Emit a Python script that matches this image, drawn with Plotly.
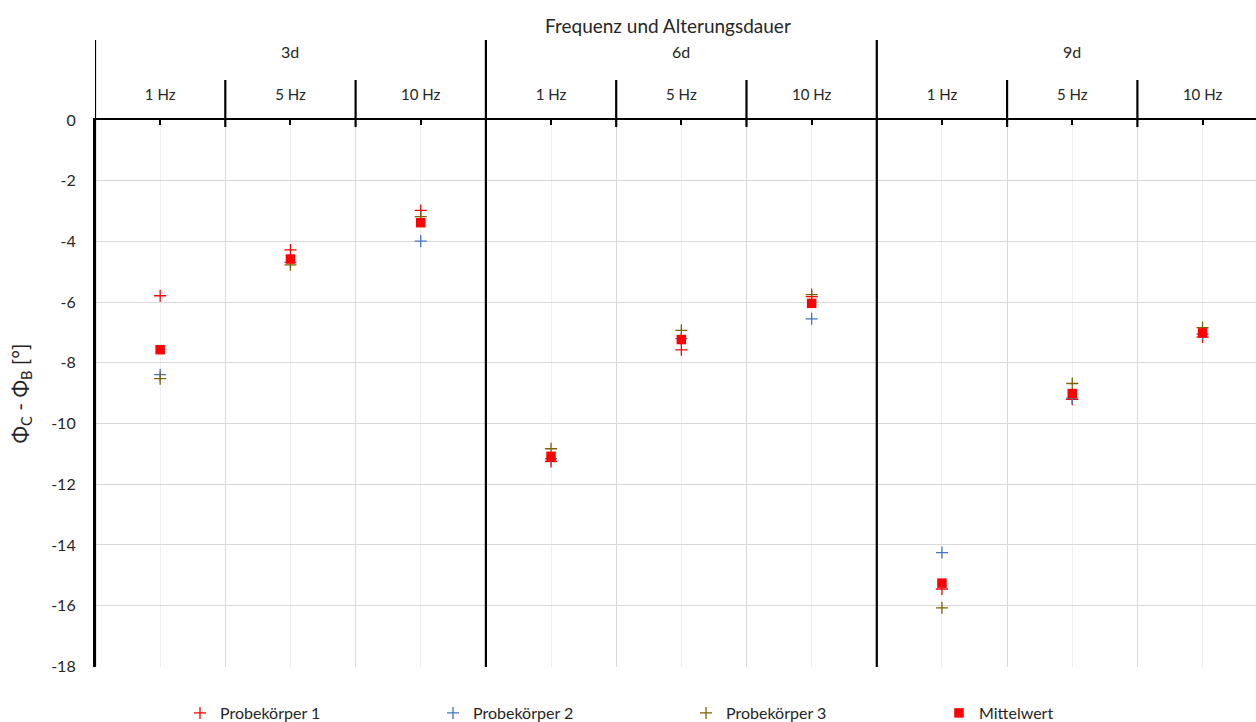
import plotly.graph_objects as go

# ---- data ----
groups = ["3d", "6d", "9d"]
freqs = ["1 Hz", "5 Hz", "10 Hz"]
categories = [f"{g} {f}" for g in groups for f in freqs]
probe1 = [-5.79, -4.28, -2.98, -11.25, -7.57, -5.82, -15.45, -9.20, -7.15]
probe2 = [-8.39, -4.69, -3.99, -11.16, -7.20, -6.55, -14.25, -9.16, -7.05]
probe3 = [-8.52, -4.77, -3.18, -10.83, -6.93, -5.75, -16.07, -8.68, -6.84]
mittel = [round((a + b + c) / 3, 3) for a, b, c in zip(probe1, probe2, probe3)]
y_ticks = [0, -2, -4, -6, -8, -10, -12, -14, -16, -18]

x = list(range(len(categories)))
tick_text = [f for g in groups for f in freqs]

FONT = "Lato, 'Open Sans', sans-serif"
TXT = "#262626"

fig = go.Figure()
cross = dict(symbol="cross-thin", size=8.6)
fig.add_trace(go.Scatter(x=x, y=probe1, mode="markers", name="Probekörper 1",
                         marker=dict(**cross, line=dict(color="#FF0000", width=1.3))))
fig.add_trace(go.Scatter(x=x, y=probe2, mode="markers", name="Probekörper 2",
                         marker=dict(**cross, line=dict(color="#4472C4", width=1.3))))
fig.add_trace(go.Scatter(x=x, y=probe3, mode="markers", name="Probekörper 3",
                         marker=dict(**cross, line=dict(color="#7F6000", width=1.3))))
fig.add_trace(go.Scatter(x=x, y=mittel, mode="markers", name="Mittelwert",
                         marker=dict(symbol="square", size=9.5, color="#FF0000")))

n = len(categories)
PH = 547  # plot height in px
x_lo = -0.5
x_hi = -0.5 + 1161 / 130.3

shapes = []
top_paper = 1 + 80 / PH
sep_paper = 1 + 40 / PH
# group boundaries (black, tall)
for gi in range(len(groups)):
    xb = gi * len(freqs) - 0.5
    shapes.append(dict(type="line", xref="x", yref="paper", x0=xb, x1=xb,
                       y0=0, y1=top_paper, line=dict(color="black", width=2.2)))
# frequency separators (black, above axis)
for i in range(n - 1):
    xb = i + 0.5
    if (i + 1) % len(freqs) == 0:
        continue
    shapes.append(dict(type="line", xref="x", yref="paper", x0=xb, x1=xb,
                       y0=1 - 7 / PH, y1=sep_paper, line=dict(color="black", width=2.2)))

annotations = [dict(text="Frequenz und Alterungsdauer", xref="paper", yref="paper",
                    x=(668 - 95) / 1161, y=1 + 95 / PH, xanchor="center", yanchor="middle",
                    showarrow=False, font=dict(size=19, color=TXT, family=FONT))]
for gi, g in enumerate(groups):
    annotations.append(dict(text=g, xref="x", yref="paper",
                            x=gi * len(freqs) + (len(freqs) - 1) / 2,
                            y=1 + 68 / PH, xanchor="center", yanchor="middle",
                            showarrow=False,
                            font=dict(size=16, color=TXT, family=FONT)))

fig.update_layout(
    width=1256, height=722,
    margin=dict(l=95, r=0, t=120, b=55),
    paper_bgcolor="white", plot_bgcolor="white",
    font=dict(family=FONT, color=TXT),
    showlegend=True,
    legend=dict(orientation="h", x=(180 - 95) / 1161, xanchor="left",
                yref="container", y=(722 - 713) / 722, yanchor="middle",
                entrywidth=208, entrywidthmode="pixels", tracegroupgap=0,
                font=dict(size=16, color=TXT, family=FONT)),
    xaxis=dict(range=[x_lo, x_hi], side="top", tickvals=x, ticktext=tick_text,
               showline=True, linecolor="black", linewidth=2.2,
               ticks="inside", ticklen=5, tickwidth=2, tickcolor="black",
               ticklabelstandoff=12,
               tickfont=dict(size=15, color=TXT, family=FONT),
               showgrid=True, gridcolor="#EFEFEF", gridwidth=1,
               minor=dict(tickvals=[i + 0.5 for i in range(n - 1)], showgrid=True,
                          gridcolor="#D9D9D9", gridwidth=1.3, ticks=""),
               zeroline=False, fixedrange=True),
    yaxis=dict(range=[-18.02, 0], tickvals=y_ticks, ticktext=[str(v) for v in y_ticks],
               showline=True, linecolor="black", linewidth=2.2, ticks="",
               ticklabelstandoff=14,
               tickfont=dict(size=16, color=TXT, family=FONT),
               showgrid=True, gridcolor="#D9D9D9", gridwidth=1.3,
               zeroline=False,
               title=dict(text="Φ<sub>C</sub> - Φ<sub>B</sub> [°]", standoff=17,
                          font=dict(size=21, color=TXT, family=FONT))),
    shapes=shapes,
    annotations=annotations,
)

fig.write_html("out.html")
